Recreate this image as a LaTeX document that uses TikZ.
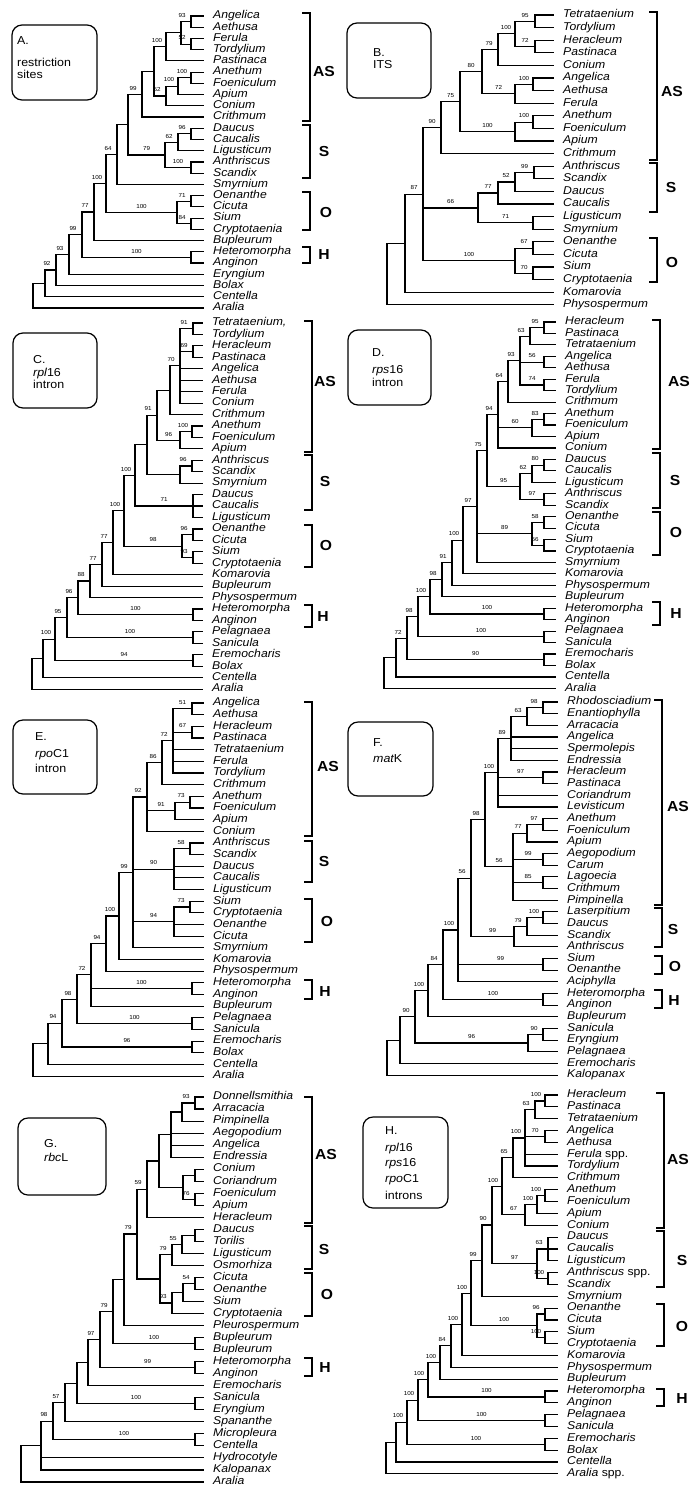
\documentclass[tikz,border=0pt]{standalone}
\usepackage{fontspec}
\newfontfamily\lfont[FakeStretch=1.08]{Liberation Sans}
\newfontfamily\lifont[FakeStretch=1.08]{Liberation Sans Italic}
\newfontfamily\lbfont[FakeStretch=1.08]{Liberation Sans Bold}
\usetikzlibrary{calc}
\tikzset{
 leaf/.style={anchor=west, inner xsep=10pt, inner ysep=0pt, text height=7.8pt, text depth=2.2pt, font=\lifont\fontsize{11.3}{12}\selectfont},
 br/.style={line width=1.15pt, line cap=rect},
 bk/.style={line width=1.3pt},
 bsl/.style={anchor=south, inner sep=0pt, font=\lfont\fontsize{5.8}{6}\selectfont},
 grp/.style={inner sep=0pt, font=\lbfont\fontsize{14.5}{16}\selectfont},
 btx/.style={anchor=west, inner sep=0pt, text height=8.5pt, text depth=2.5pt, font=\lfont\fontsize{11.5}{13}\selectfont},
 pbx/.style={line width=1.2pt, rounded corners=10pt},
}
\newcommand\gi[1]{{\lifont #1}}
\newcommand\lf[3]{\node[leaf] (#1) at (\tipx,{\yb+\ys*(#2-1)}) {#3};}
\newcommand\leaves[2]{\foreach \nm [count=\i] in {#2} {\lf{#1\i}{\i}{\nm}}}
\newcommand\nd[5]{%
  \path let \p1=(#3), \p2=(#4) in coordinate (#1) at (#2pt,{0.5*(\y1+\y2)});
  \draw[br] (#1 |- #3) -- (#1 |- #4);
  \draw[br] (#1 |- #3) -- (#3);
  \draw[br] (#1 |- #4) -- (#4);
  \if\relax\detokenize{#5}\relax\else
    \foreach \kid in {#5} {\draw[br] (#1 |- \kid) -- (\kid);}%
  \fi}
\newcommand\bs[3]{\path let \p1=(#1), \p2=(#2) in node[bsl] (#1L) at ({min(0.5*(\x1+\x2),\x1-9pt)},{\y1+4pt}) {#3};}
\newcommand\brk[3]{\draw[bk] ({#1-8},#2) -- (#1,#2) -- (#1,#3) -- ({#1-8},#3);}
\begin{document}
\begin{tikzpicture}[x=1pt,y=-1pt]
\fill[white] (0,0) rectangle (691,1489);
\useasboundingbox (0,0) rectangle (691,1489);

% ================= PANEL A =================
\def\tipx{203}\def\yb{16}\def\ys{11.23}
\leaves{A}{Angelica,Aethusa,Ferula,Tordylium,Pastinaca,Anethum,Foeniculum,Apium,Conium,Crithmum,Daucus,Caucalis,Ligusticum,Anthriscus,Scandix,Smyrnium,Oenanthe,Cicuta,Sium,Cryptotaenia,Bupleurum,Heteromorpha,Anginon,Eryngium,Bolax,Centella,Aralia}
\nd{a1}{191}{A1}{A2}{}
\nd{a2}{191}{A3}{A4}{}
\nd{a3}{181}{a1}{a2}{}
\nd{a4}{166}{a3}{A5}{}
\nd{a6}{191}{A6}{A7}{}
\nd{a7}{178}{a6}{A8}{}
\nd{a8}{166}{a7}{A9}{}
\nd{a9}{154}{a4}{a8}{}
\nd{a10}{142}{a9}{A10}{}
\nd{a11}{191}{A11}{A12}{}
\nd{a12}{178}{a11}{A13}{}
\nd{a13}{191}{A14}{A15}{}
\nd{a14}{165}{a12}{a13}{}
\nd{a15}{128}{a10}{a14}{}
\nd{a16}{117}{a15}{A16}{}
\nd{a17}{191}{A17}{A18}{}
\nd{a18}{191}{A19}{A20}{}
\nd{a19}{177}{a17}{a18}{}
\nd{a20}{106}{a16}{a19}{}
\nd{a21}{94}{a20}{A21}{}
\nd{a22}{191}{A22}{A23}{}
\nd{a23}{82}{a21}{a22}{}
\nd{a24}{69}{a23}{A24}{}
\nd{a25}{56}{a24}{A25}{}
\nd{a26}{45}{a25}{A26}{}
\nd{a27}{33}{a26}{A27}{}
\bs{a1}{a3}{93}\bs{a2}{a3}{52}\bs{a4}{a9}{100}\bs{a6}{a7}{100}\bs{a7}{a8}{100}\bs{a8}{a9}{52}
\bs{a10}{a15}{99}\bs{a11}{a12}{96}\bs{a12}{a14}{62}\bs{a13}{a14}{100}\bs{a14}{a15}{79}\bs{a16}{a20}{64}
\bs{a17}{a19}{71}\bs{a18}{a19}{84}\bs{a19}{a20}{100}\bs{a20}{a21}{100}\bs{a21}{a23}{77}\bs{a22}{a23}{100}
\bs{a23}{a24}{99}\bs{a24}{a25}{93}\bs{a25}{a26}{92}
\draw[pbx] (12,25) rectangle (97,100);
\node[btx] (boxA1) at (17,41) {A.};
\node[btx] (boxA2) at (17,63) {restriction};
\node[btx] (boxA3) at (17,75) {sites};
\brk{310}{13}{121}\brk{310}{125}{178}\brk{310}{192}{230}\brk{310}{247}{263}
\node[grp] (grpA1) at (324,72) {AS};
\node[grp] (grpA2) at (324,152) {S};
\node[grp] (grpA3) at (326,213) {O};
\node[grp] (grpA4) at (324,255) {H};

% ================= PANEL B =================
\def\tipx{553}\def\yb{15}\def\ys{12.6}
\leaves{B}{Tetrataenium,Tordylium,Heracleum,Pastinaca,Conium,Angelica,Aethusa,Ferula,Anethum,Foeniculum,Apium,Crithmum,Anthriscus,Scandix,Daucus,Caucalis,Ligusticum,Smyrnium,Oenanthe,Cicuta,Sium,Cryptotaenia,Komarovia,Physospermum}
\nd{b1}{535}{B1}{B2}{}
\nd{b2}{535}{B3}{B4}{}
\nd{b3}{515}{b1}{b2}{}
\nd{b4}{498}{b3}{B5}{}
\nd{b5}{533}{B6}{B7}{}
\nd{b6}{515}{b5}{B8}{}
\nd{b7}{482}{b4}{b6}{}
\nd{b8}{533}{B9}{B10}{}
\nd{b9}{515}{b8}{B11}{}
\nd{b10}{460}{b7}{b9}{}
\nd{b11}{441}{b10}{B12}{}
\nd{b12}{534}{B13}{B14}{}
\nd{b13}{515}{b12}{B15}{}
\nd{b14}{498}{b13}{B16}{}
\nd{b15}{533}{B17}{B18}{}
\nd{b16}{478}{b14}{b15}{}
\nd{b17}{533}{B19}{B20}{}
\nd{b18}{533}{B21}{B22}{}
\nd{b19}{515}{b17}{b18}{}
\nd{b20}{423}{b11}{b19}{b16}
\nd{b21}{405}{b20}{B23}{}
\nd{b22}{387}{b21}{B24}{}
\bs{b1}{b3}{95}\bs{b2}{b3}{72}\bs{b3}{b4}{100}\bs{b4}{b7}{79}\bs{b5}{b6}{100}\bs{b6}{b7}{72}
\bs{b7}{b10}{80}\bs{b8}{b9}{100}\bs{b9}{b10}{100}\bs{b10}{b11}{75}\bs{b11}{b20}{90}\bs{b12}{b13}{99}
\bs{b13}{b14}{52}\bs{b14}{b16}{77}\bs{b15}{b16}{71}\bs{b16}{b20}{66}\bs{b17}{b19}{67}\bs{b18}{b19}{70}
\bs{b19}{b20}{100}\bs{b20}{b21}{87}
\draw[pbx] (347,23) rectangle (431,98);
\node[btx] (boxB1) at (373,53) {B.};
\node[btx] (boxB2) at (373,65) {ITS};
\brk{657}{12}{160}\brk{657}{163}{212}\brk{657}{238}{282}
\node[grp] (grpB1) at (672,92) {AS};
\node[grp] (grpB2) at (671,188) {S};
\node[grp] (grpB3) at (672,263) {O};

% ================= PANEL C =================
\def\tipx{202}\def\yb{323}\def\ys{11.44}
\leaves{C}{{Tetrataenium,},Tordylium,Heracleum,Pastinaca,Angelica,Aethusa,Ferula,Conium,Crithmum,Anethum,Foeniculum,Apium,Anthriscus,Scandix,Smyrnium,Daucus,Caucalis,Ligusticum,Oenanthe,Cicuta,Sium,Cryptotaenia,Komarovia,Bupleurum,Physospermum,Heteromorpha,Anginon,Pelagnaea,Sanicula,Eremocharis,Bolax,Centella,Aralia}
\nd{c1}{193}{C1}{C2}{}
\nd{c2}{193}{C3}{C4}{}
\nd{c3}{180}{c1}{C8}{c2,C5,C6,C7}
\nd{c4}{170}{c3}{C9}{}
\nd{c5}{192}{C10}{C11}{}
\nd{c6}{180}{c5}{C12}{}
\nd{c7}{157}{c4}{c6}{}
\nd{c8}{192}{C13}{C14}{}
\nd{c9}{180}{c8}{C15}{}
\nd{c10}{147}{c7}{c9}{}
\nd{c11}{193}{C16}{C18}{C17}
\nd{c12}{135}{c10}{c11}{}
\nd{c14}{193}{C19}{C20}{}
\nd{c15}{193}{C21}{C22}{}
\nd{c16}{182}{c14}{c15}{}
\nd{c13}{124}{c12}{c16}{}
\nd{c17}{113}{c13}{C23}{}
\nd{c18}{102}{c17}{C24}{}
\nd{c19}{90}{c18}{C25}{}
\nd{c20}{193}{C26}{C27}{}
\nd{c21}{78}{c19}{c20}{}
\nd{c22}{193}{C28}{C29}{}
\nd{c23}{67}{c21}{c22}{}
\nd{c24}{193}{C30}{C31}{}
\nd{c25}{55}{c23}{c24}{}
\nd{c26}{43}{c25}{C32}{}
\nd{c27}{32}{c26}{C33}{}
\bs{c1}{c3}{91}\bs{c2}{c3}{69}\bs{c3}{c4}{70}\bs{c5}{c6}{100}\bs{c6}{c7}{96}\bs{c7}{c10}{91}
\bs{c8}{c9}{96}\bs{c11}{c12}{71}\bs{c12}{c13}{100}\bs{c13}{c17}{100}\bs{c14}{c16}{96}\bs{c15}{c16}{93}
\bs{c16}{c13}{98}\bs{c17}{c18}{77}\bs{c18}{c19}{77}\bs{c19}{c21}{88}\bs{c20}{c21}{100}\bs{c21}{c23}{96}
\bs{c22}{c23}{100}\bs{c23}{c25}{95}\bs{c24}{c25}{94}\bs{c25}{c26}{100}
\draw[pbx] (13,333) rectangle (97,408);
\node[btx] (boxC1) at (33,360) {C.};
\node[btx] (boxC2) at (33,373) {\gi{rpl}16};
\node[btx] (boxC3) at (33,385) {intron};
\brk{312}{321}{452}\brk{312}{455}{510}\brk{312}{525}{567}\brk{312}{605}{627}
\node[grp] (grpC1) at (325,382) {AS};
\node[grp] (grpC2) at (325,482) {S};
\node[grp] (grpC3) at (326,545) {O};
\node[grp] (grpC4) at (323,617) {H};

% ================= PANEL D =================
\def\tipx{555}\def\yb{322}\def\ys{11.45}
\leaves{D}{Heracleum,Pastinaca,Tetrataenium,Angelica,Aethusa,Ferula,Tordylium,Crithmum,Anethum,Foeniculum,Apium,Conium,Daucus,Caucalis,Ligusticum,Anthriscus,Scandix,Oenanthe,Cicuta,Sium,Cryptotaenia,Smyrnium,Komarovia,Physospermum,Bupleurum,Heteromorpha,Anginon,Pelagnaea,Sanicula,Eremocharis,Bolax,Centella,Aralia}
\nd{d1}{544}{D1}{D2}{}
\nd{d2}{530}{d1}{D3}{}
\nd{d3}{544}{D4}{D5}{}
\nd{d4}{544}{D6}{D7}{}
\nd{d5}{520}{d2}{d4}{d3}
\nd{d6}{508}{d5}{D8}{}
\nd{d8}{544}{D9}{D10}{}
\nd{d9}{532}{d8}{D11}{}
\nd{d10}{498}{d6}{D12}{d9}
\nd{d12}{544}{D13}{D14}{}
\nd{d13}{532}{d12}{D15}{}
\nd{d14}{544}{D16}{D17}{}
\nd{d15}{520}{d13}{d14}{}
\nd{d11}{487}{d10}{d15}{}
\nd{d16}{544}{D18}{D19}{}
\nd{d17}{544}{D20}{D21}{}
\nd{d18}{532}{d16}{d17}{}
\nd{d19}{477}{d11}{D22}{d18}
\nd{d20}{463}{d19}{D23}{}
\nd{d21}{452}{d20}{D24}{}
\nd{d22}{442}{d21}{D25}{}
\nd{d23}{544}{D26}{D27}{}
\nd{d24}{430}{d22}{d23}{}
\nd{d25}{544}{D28}{D29}{}
\nd{d26}{418}{d24}{d25}{}
\nd{d27}{544}{D30}{D31}{}
\nd{d28}{407}{d26}{d27}{}
\nd{d29}{396}{d28}{D32}{}
\nd{d30}{384}{d29}{D33}{}
\bs{d1}{d2}{95}\bs{d2}{d5}{63}\bs{d3}{d5}{56}\bs{d4}{d5}{74}\bs{d5}{d6}{93}\bs{d6}{d10}{64}
\bs{d8}{d9}{83}\bs{d9}{d10}{60}\bs{d10}{d11}{94}\bs{d11}{d19}{75}\bs{d12}{d13}{80}\bs{d13}{d15}{62}
\bs{d14}{d15}{97}\bs{d15}{d11}{95}\bs{d16}{d18}{58}\bs{d17}{d18}{56}\bs{d18}{d19}{89}\bs{d19}{d20}{97}
\bs{d20}{d21}{100}\bs{d21}{d22}{91}\bs{d22}{d24}{98}\bs{d23}{d24}{100}\bs{d24}{d26}{100}\bs{d25}{d26}{100}
\bs{d26}{d28}{98}\bs{d27}{d28}{90}\bs{d28}{d29}{72}
\draw[pbx] (348,330) rectangle (431,405);
\node[btx] (boxD1) at (372,353) {D.};
\node[btx] (boxD2) at (372,370) {\gi{rps}16};
\node[btx] (boxD3) at (372,383) {intron};
\brk{660}{320}{449}\brk{660}{453}{508}\brk{660}{512}{555}\brk{660}{602}{625}
\node[grp] (grpD1) at (679,382) {AS};
\node[grp] (grpD2) at (675,480) {S};
\node[grp] (grpD3) at (676,532) {O};
\node[grp] (grpD4) at (676,614) {H};

% ================= PANEL E =================
\def\tipx{203}\def\yb{703}\def\ys{11.66}
\leaves{E}{Angelica,Aethusa,Heracleum,Pastinaca,Tetrataenium,Ferula,Tordylium,Crithmum,Anethum,Foeniculum,Apium,Conium,Anthriscus,Scandix,Daucus,Caucalis,Ligusticum,Sium,Cryptotaenia,Oenanthe,Cicuta,Smyrnium,Komarovia,Physospermum,Heteromorpha,Anginon,Bupleurum,Pelagnaea,Sanicula,Eremocharis,Bolax,Centella,Aralia}
\nd{e1}{192}{E1}{E2}{}
\nd{e2}{192}{E3}{E4}{}
\nd{e3}{173}{e1}{E7}{e2,E5,E6}
\nd{e4}{162}{e3}{E8}{}
\nd{e5}{190}{E9}{E10}{}
\nd{e6}{175}{e5}{E11}{}
\nd{e7}{147}{e4}{E12}{e6}
\nd{e8}{190}{E13}{E14}{}
\nd{e9}{174}{e8}{E17}{E15,E16}
\nd{e10}{190}{E18}{E19}{}
\nd{e11}{174}{e10}{E21}{E20}
\nd{e12}{133}{e7}{E22}{e9,e11}
\nd{e13}{119}{e12}{E23}{}
\nd{e14}{106}{e13}{E24}{}
\nd{e15}{192}{E25}{E26}{}
\nd{e16}{91}{e14}{E27}{e15}
\nd{e17}{192}{E28}{E29}{}
\nd{e18}{77}{e16}{e17}{}
\nd{e19}{192}{E30}{E31}{}
\nd{e20}{62}{e18}{e19}{}
\nd{e21}{48}{e20}{E32}{}
\nd{e22}{33}{e21}{E33}{}
\bs{e1}{e3}{51}\bs{e2}{e3}{67}\bs{e3}{e4}{72}\bs{e4}{e7}{86}\bs{e5}{e6}{73}\bs{e6}{e7}{91}
\bs{e7}{e12}{92}\bs{e8}{e9}{58}\bs{e9}{e12}{90}\bs{e10}{e11}{73}\bs{e11}{e12}{94}\bs{e12}{e13}{99}
\bs{e13}{e14}{100}\bs{e14}{e16}{94}\bs{e15}{e16}{100}\bs{e16}{e18}{72}\bs{e17}{e18}{100}\bs{e18}{e20}{98}
\bs{e19}{e20}{96}\bs{e20}{e21}{94}
\draw[pbx] (13,720) rectangle (97,794);
\node[btx] (boxE1) at (35,737) {E.};
\node[btx] (boxE2) at (35,754) {\gi{rpo}C1};
\node[btx] (boxE3) at (35,769) {intron};
\brk{312}{702}{836}\brk{312}{841}{882}\brk{312}{899}{942}\brk{312}{980}{999}
\node[grp] (grpE1) at (328,766) {AS};
\node[grp] (grpE2) at (324,861) {S};
\node[grp] (grpE3) at (327,921) {O};
\node[grp] (grpE4) at (325,991) {H};

% ================= PANEL F =================
\def\tipx{557}\def\yb{702}\def\ys{11.66}
\leaves{F}{Rhodosciadium,Enantiophylla,Arracacia,Angelica,Spermolepis,Endressia,Heracleum,Pastinaca,Coriandrum,Levisticum,Anethum,Foeniculum,Apium,Aegopodium,Carum,Lagoecia,Crithmum,Pimpinella,Laserpitium,Daucus,Scandix,Anthriscus,Sium,Oenanthe,Aciphylla,Heteromorpha,Anginon,Bupleurum,Sanicula,Eryngium,Pelagnaea,Eremocharis,Kalopanax}
\nd{f1}{543}{F1}{F2}{}
\nd{f2}{527}{f1}{F3}{}
\nd{f3}{511}{f2}{F6}{F4,F5}
\nd{f4}{543}{F7}{F8}{}
\nd{f5}{498}{f3}{F10}{f4,F9}
\nd{f6}{543}{F11}{F12}{}
\nd{f7}{527}{f6}{F13}{}
\nd{f8}{543}{F14}{F15}{}
\nd{f9}{543}{F16}{F17}{}
\nd{f10}{513}{f7}{F18}{f8,f9}
\nd{f11}{485}{f5}{f10}{}
\nd{f12}{543}{F19}{F20}{}
\nd{f13}{527}{f12}{F21}{}
\nd{f14}{514}{f13}{F22}{}
\nd{f15}{471}{f11}{f14}{}
\nd{f16}{543}{F23}{F24}{}
\nd{f17}{458}{f15}{F25}{f16}
\nd{f18}{543}{F26}{F27}{}
\nd{f19}{443}{f17}{f18}{}
\nd{f20}{428}{f19}{F28}{}
\nd{f21}{543}{F29}{F30}{}
\nd{f22}{528}{f21}{F31}{}
\nd{f23}{415}{f20}{f22}{}
\nd{f24}{400}{f23}{F32}{}
\nd{f25}{387}{f24}{F33}{}
\bs{f1}{f2}{98}\bs{f2}{f3}{63}\bs{f3}{f5}{89}\bs{f4}{f5}{97}\bs{f5}{f11}{100}\bs{f6}{f7}{97}
\bs{f7}{f10}{77}\bs{f8}{f10}{99}\bs{f9}{f10}{85}\bs{f10}{f11}{56}\bs{f11}{f15}{98}\bs{f12}{f13}{100}
\bs{f13}{f14}{79}\bs{f14}{f15}{99}\bs{f15}{f17}{56}\bs{f16}{f17}{99}\bs{f17}{f19}{100}\bs{f18}{f19}{100}
\bs{f19}{f20}{84}\bs{f20}{f23}{100}\bs{f21}{f22}{90}\bs{f22}{f23}{96}\bs{f23}{f24}{90}
\draw[pbx] (348,722) rectangle (433,796);
\node[btx] (boxF1) at (373,743) {F.};
\node[btx] (boxF2) at (373,759) {\gi{mat}K};
\brk{662}{700}{905}\brk{662}{908}{947}\brk{662}{956}{974}\brk{662}{990}{1008}
\node[grp] (grpF1) at (678,806) {AS};
\node[grp] (grpF2) at (673,929) {S};
\node[grp] (grpF3) at (675,966) {O};
\node[grp] (grpF4) at (674,1000) {H};

% ================= PANEL G =================
\def\tipx{203}\def\yb{1097}\def\ys{12.03}
\leaves{G}{Donnellsmithia,Arracacia,Pimpinella,Aegopodium,Angelica,Endressia,Conium,Coriandrum,Foeniculum,Apium,Heracleum,Daucus,Torilis,Ligusticum,Osmorhiza,Cicuta,Oenanthe,Sium,Cryptotaenia,Pleurospermum,Bupleurum,Bupleurum,Heteromorpha,Anginon,Eremocharis,Sanicula,Eryngium,Spananthe,Micropleura,Centella,Hydrocotyle,Kalopanax,Aralia}
\nd{g1}{195}{G1}{G2}{}
\nd{g2}{182}{g1}{G3}{}
\nd{g3}{171}{g2}{G6}{G4,G5}
\nd{g4}{195}{G7}{G8}{}
\nd{g5}{195}{G9}{G10}{}
\nd{g6}{183}{g4}{g5}{}
\nd{g7}{159}{g3}{g6}{}
\nd{g8}{147}{g7}{G11}{}
\nd{g9}{195}{G12}{G13}{}
\nd{g10}{182}{g9}{G14}{}
\nd{g11}{172}{g10}{G15}{}
\nd{g12}{195}{G16}{G17}{}
\nd{g13}{183}{g12}{G18}{}
\nd{g14}{172}{g13}{G19}{}
\nd{g15}{160}{g11}{g14}{}
\nd{g16}{137}{g8}{g15}{}
\nd{g17}{124}{g16}{G20}{}
\nd{g18}{195}{G21}{G22}{}
\nd{g19}{113}{g17}{g18}{}
\nd{g20}{195}{G23}{G24}{}
\nd{g21}{100}{g19}{g20}{}
\nd{g22}{88}{g21}{G25}{}
\nd{g23}{195}{G26}{G27}{}
\nd{g24}{77}{g22}{g23}{}
\nd{g25}{65}{g24}{G28}{}
\nd{g26}{195}{G29}{G30}{}
\nd{g27}{53}{g25}{g26}{}
\nd{g28}{41}{g27}{G32}{G31}
\nd{g29}{21}{g28}{G33}{}
\bs{g1}{g2}{93}\bs{g5}{g6}{76}\bs{g8}{g16}{59}\bs{g10}{g11}{55}\bs{g11}{g15}{79}\bs{g12}{g13}{54}
\bs{g14}{g15}{93}\bs{g16}{g17}{79}\bs{g18}{g19}{100}\bs{g19}{g21}{79}\bs{g20}{g21}{99}\bs{g21}{g22}{97}
\bs{g23}{g24}{100}\bs{g25}{g27}{57}\bs{g26}{g27}{100}\bs{g27}{g28}{98}
\draw[pbx] (18,1118) rectangle (106,1195);
\node[btx] (boxG1) at (44,1144) {G.};
\node[btx] (boxG2) at (44,1158) {\gi{rbc}L};
\brk{312}{1097}{1223}\brk{312}{1226}{1269}\brk{312}{1273}{1316}\brk{312}{1358}{1376}
\node[grp] (grpG1) at (326,1154) {AS};
\node[grp] (grpG2) at (324,1249) {S};
\node[grp] (grpG3) at (327,1294) {O};
\node[grp] (grpG4) at (325,1367) {H};

% ================= PANEL H =================
\def\tipx{557}\def\yb{1095}\def\ys{11.84}
\leaves{H}{Heracleum,Pastinaca,Tetrataenium,Angelica,Aethusa,Ferula {\lfont spp.},Tordylium,Crithmum,Anethum,Foeniculum,Apium,Conium,Daucus,Caucalis,Ligusticum,Anthriscus {\lfont spp.},Scandix,Smyrnium,Oenanthe,Cicuta,Sium,Cryptotaenia,Komarovia,Physospermum,Bupleurum,Heteromorpha,Anginon,Pelagnaea,Sanicula,Eremocharis,Bolax,Centella,Aralia {\lfont spp.}}
\nd{h1}{545}{H1}{H2}{}
\nd{h2}{535}{h1}{H3}{}
\nd{h3}{545}{H4}{H5}{}
\nd{h4}{525}{h2}{H7}{h3,H6}
\nd{h5}{513}{h4}{H8}{}
\nd{h6}{545}{H9}{H10}{}
\nd{h7}{537}{h6}{H11}{}
\nd{h8}{525}{h7}{H12}{}
\nd{h9}{502}{h5}{h8}{}
\nd{h10}{548}{H13}{H15}{H14}
\nd{h11}{548}{H16}{H17}{}
\nd{h12}{537}{h10}{h11}{}
\nd{h13}{492}{h9}{h12}{}
\nd{h14}{482}{h13}{H18}{}
\nd{h15}{545}{H19}{H20}{}
\nd{h16}{545}{H21}{H22}{}
\nd{h17}{537}{h15}{h16}{}
\nd{h18}{471}{h14}{h17}{}
\nd{h19}{462}{h18}{H23}{}
\nd{h20}{451}{h19}{H24}{}
\nd{h21}{440}{h20}{H25}{}
\nd{h22}{545}{H26}{H27}{}
\nd{h23}{428}{h21}{h22}{}
\nd{h24}{545}{H28}{H29}{}
\nd{h25}{418}{h23}{h24}{}
\nd{h26}{545}{H30}{H31}{}
\nd{h27}{407}{h25}{h26}{}
\nd{h28}{396}{h27}{H32}{}
\nd{h29}{386}{h28}{H33}{}
\bs{h1}{h2}{100}\bs{h2}{h4}{63}\bs{h3}{h4}{70}\bs{h4}{h5}{100}\bs{h5}{h9}{65}\bs{h6}{h7}{100}
\bs{h7}{h8}{100}\bs{h8}{h9}{67}\bs{h9}{h13}{100}\bs{h10}{h12}{63}\bs{h11}{h12}{100}\bs{h12}{h13}{97}
\bs{h13}{h14}{90}\bs{h14}{h18}{99}\bs{h15}{h17}{96}\bs{h16}{h17}{100}\bs{h17}{h18}{100}\bs{h18}{h19}{100}
\bs{h19}{h20}{100}\bs{h20}{h21}{84}\bs{h21}{h23}{100}\bs{h22}{h23}{100}\bs{h23}{h25}{100}\bs{h24}{h25}{100}
\bs{h25}{h27}{100}\bs{h26}{h27}{100}\bs{h27}{h28}{100}
\draw[pbx] (363,1117) rectangle (448,1208);
\node[btx] (boxH1) at (385,1131) {H.};
\node[btx] (boxH2) at (385,1148) {\gi{rpl}16};
\node[btx] (boxH3) at (385,1163) {\gi{rps}16};
\node[btx] (boxH4) at (385,1179) {\gi{rpo}C1};
\node[btx] (boxH5) at (385,1196) {introns};
\brk{664}{1093}{1228}\brk{664}{1231}{1287}\brk{664}{1304}{1346}\brk{664}{1389}{1406}
\node[grp] (grpH1) at (678,1159) {AS};
\node[grp] (grpH2) at (682,1260) {S};
\node[grp] (grpH3) at (682,1326) {O};
\node[grp] (grpH4) at (682,1398) {H};
\end{tikzpicture}
\end{document}
